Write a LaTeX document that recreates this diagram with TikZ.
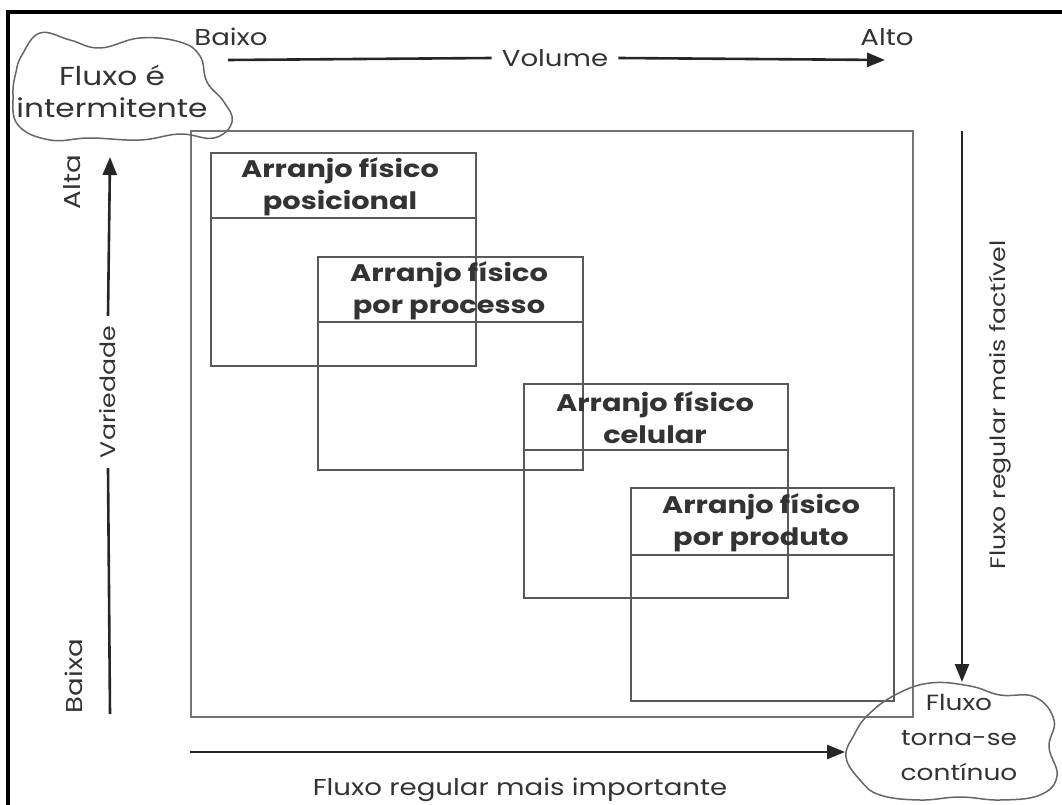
\documentclass[tikz,border=0pt]{standalone}
\usepackage{fontspec}
\setmainfont{Poppins}[FakeStretch=1.2]
\usetikzlibrary{arrows.meta}
\begin{document}
\begin{tikzpicture}[x=1pt,y=-1pt,
  box/.style={draw=black!65, line width=1.8pt, anchor=north west, inner sep=0pt},
  divider/.style={draw=black!65, line width=1.8pt},
  head/.style={font=\fontsize{24}{32}\selectfont\bfseries, text=black!80, align=center},
  lab/.style={font=\fontsize{23}{32}\selectfont, text=black!80, align=center},
  axisline/.style={draw=black!85, line width=2.6pt},
  axis/.style={axisline, -{Triangle[length=18pt,width=14pt]}},
  cloud/.style={draw=black!60, line width=1.5pt},
  frame/.style={draw=black, line width=4pt}]
\useasboundingbox (0,0) rectangle (1062,805);
% outer frame
\draw[frame] (8,805) -- (8,12) -- (1062,12);
% main square
\node[box, draw=black!55, minimum width=722pt, minimum height=586pt] (sq) at (190,130) {};
% layout boxes
\node[box, minimum width=265pt, minimum height=213pt] (b1) at (210,152) {};
\node[box, minimum width=265pt, minimum height=213pt] (b2) at (317,256) {};
\node[box, minimum width=264pt, minimum height=214pt] (b3) at (523,383) {};
\node[box, minimum width=263pt, minimum height=213pt] (b4) at (630,487) {};
\draw[divider] ([yshift=-66pt]b1.north west) -- ([yshift=-66pt]b1.north east);
\draw[divider] ([yshift=-66pt]b2.north west) -- ([yshift=-66pt]b2.north east);
\draw[divider] ([yshift=-67pt]b3.north west) -- ([yshift=-67pt]b3.north east);
\draw[divider] ([yshift=-68pt]b4.north west) -- ([yshift=-68pt]b4.north east);
\node[head] (h1) at (340,187) {Arranjo físico\\posicional};
\node[head] (h2) at (449,291) {Arranjo físico\\por processo};
\node[head] (h3) at (655,418) {Arranjo físico\\celular};
\node[head] (h4) at (761,523) {Arranjo físico\\por produto};
% clouds
\draw[cloud] plot[smooth cycle, tension=0.7] coordinates {(22,55) (40,33) (70,40) (100,48) (140,38) (180,42) (200,56) (207,82) (224,102) (232,122) (214,138) (180,134) (140,140) (90,138) (50,140) (18,125) (13,95) (16,72)};
\node[lab, font=\fontsize{26}{32}\selectfont] (c1) at (112,91) {Fluxo é\\intermitente};
\draw[cloud] plot[smooth cycle, tension=0.7] coordinates {(868,715) (895,695) (930,683) (970,686) (1000,695) (1035,697) (1054,720) (1049,747) (1057,776) (1040,795) (1000,800) (960,797) (920,800) (880,795) (860,780) (846,757) (854,735)};
\node[lab, font=\fontsize{22}{35}\selectfont] (c2) at (959,737) {Fluxo\\torna-se\\contínuo};
% volume axis
\node[lab] (baixo) at (231,37) {Baixo};
\node[lab] (alto) at (887,37) {Alto};
\node[lab, inner sep=10pt] (vol) at (555,58) {Volume};
\coordinate (vs) at (228,60);
\coordinate (ve) at (885,60);
\draw[axisline] (vs) -- (vol.west);
\draw[axis] (vol.east) -- (ve);
% variety axis
\node[lab, rotate=90, font=\fontsize{21}{32}\selectfont, inner sep=10pt] (var) at (108,392) {Variedade};
\node[lab, rotate=90] (alta) at (72,182) {Alta};
\node[lab, rotate=90] (baixa) at (74,676) {Baixa};
\coordinate (vb) at (110,714);
\coordinate (vt) at (110,157);
\draw[axisline] (vb) -- (var.west);
\draw[axis] (var.east) -- (vt);
% right axis
\coordinate (rt) at (962,131);
\coordinate (rb) at (962,682);
\draw[axis] (rt) -- (rb);
\node[lab, rotate=90, font=\fontsize{21}{32}\selectfont] (fac) at (1000,405) {Fluxo regular mais factível};
% bottom axis
\coordinate (bl) at (190,752);
\coordinate (br) at (845,752);
\draw[axis] (bl) -- (br);
\node[lab] (imp) at (520,790) {Fluxo regular mais importante};
\end{tikzpicture}
\end{document}
